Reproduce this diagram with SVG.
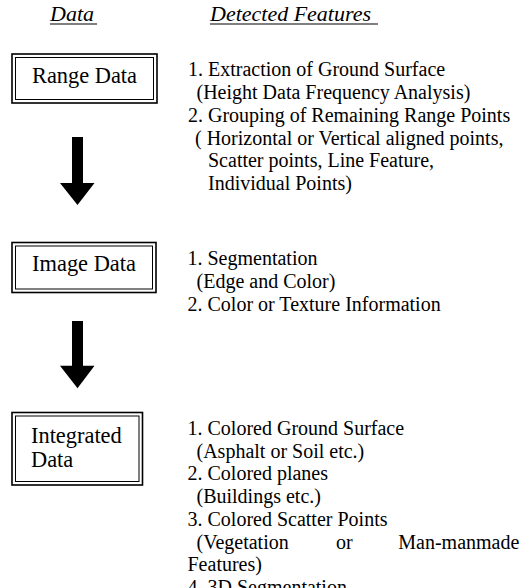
<svg xmlns="http://www.w3.org/2000/svg" width="524" height="588" viewBox="0 0 524 588">
<style>
text{font-family:"Liberation Serif","Times New Roman",serif;fill:#000}
.hd{font-size:22px;font-style:italic}
.bx{font-size:22.4px}
.ft{font-size:20px}
.o{fill:none;stroke:#000;stroke-width:1.6}
.i{fill:none;stroke:#000;stroke-width:1}
.ul{stroke:#000;stroke-width:1.2}
</style>
<rect width="524" height="588" fill="#fff"/>
<g id="headers">
<text class="hd" x="50" y="21">Data</text>
<line class="ul" x1="50" y1="24" x2="97" y2="24"/>
<text class="hd" x="210" y="21">Detected Features</text>
<line class="ul" x1="210" y1="24" x2="378" y2="24"/>
</g>
<g id="range-data">
<rect class="o" x="12" y="54" width="145" height="49"/>
<rect class="i" x="15.5" y="57.5" width="138" height="42"/>
<text class="bx" x="84.5" y="83" text-anchor="middle">Range Data</text>
</g>
<g id="image-data">
<rect class="o" x="12" y="242.5" width="144" height="50"/>
<rect class="i" x="15.5" y="246" width="137" height="43"/>
<text class="bx" x="84" y="271" text-anchor="middle">Image Data</text>
</g>
<g id="integrated-data">
<rect class="o" x="12" y="412.5" width="130.5" height="72.5"/>
<rect class="i" x="15.5" y="416" width="123.5" height="65.5"/>
<text class="bx" x="31" y="442.7">Integrated</text>
<text class="bx" x="31" y="466.7">Data</text>
</g>
<g id="connectors">
<rect x="72" y="137" width="11" height="46.5"/>
<polygon points="60,183 94.5,183 77.5,205"/>
<rect x="72" y="321" width="11" height="45.5"/>
<polygon points="60,365.7 94.5,365.7 77.5,388.3"/>
</g>
<g id="range-features">
<text class="ft" x="188" y="76">1. Extraction of Ground Surface</text>
<text class="ft" x="196.5" y="99">(Height Data Frequency Analysis)</text>
<text class="ft" x="188" y="121.8">2. Grouping of Remaining Range Points</text>
<text class="ft" x="195" y="144.6">( Horizontal or Vertical aligned points,</text>
<text class="ft" x="208" y="167.4">Scatter points, Line Feature,</text>
<text class="ft" x="208" y="190.2">Individual Points)</text>
</g>
<g id="image-features">
<text class="ft" x="187.5" y="265">1. Segmentation</text>
<text class="ft" x="196.5" y="288">(Edge and Color)</text>
<text class="ft" x="187.5" y="311">2. Color or Texture Information</text>
</g>
<g id="integrated-features">
<text class="ft" x="187.5" y="435">1. Colored Ground Surface</text>
<text class="ft" x="196.5" y="457.7">(Asphalt or Soil etc.)</text>
<text class="ft" x="187.5" y="480.4">2. Colored planes</text>
<text class="ft" x="196.5" y="503.1">(Buildings etc.)</text>
<text class="ft" x="187.5" y="525.8">3. Colored Scatter Points</text>
<text class="ft" y="548.5"><tspan x="196.5">(Vegetation</tspan><tspan x="336">or</tspan><tspan x="398.3">Man-manmade</tspan></text>
<text class="ft" x="187.5" y="571.2">Features)</text>
<text class="ft" x="187.5" y="593.9">4. 3D Segmentation</text>
</g>
</svg>
